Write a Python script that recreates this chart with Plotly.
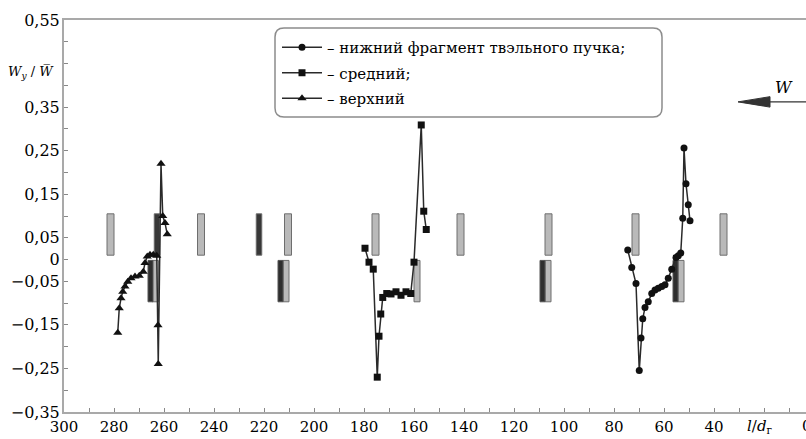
import plotly.graph_objects as go

# ---- data ----
x_low = [74.5, 72.9, 71.2, 69.9, 69.2, 68.5, 67.6, 66.3, 64.9, 63.6, 62.3, 60.9, 59.6,
         58.3, 56.9, 55.2, 54.3, 53.3, 52.5, 52.0, 51.2, 50.3, 49.6]
y_low = [0.022, -0.018, -0.055, -0.255, -0.18, -0.136, -0.11, -0.097, -0.078, -0.070,
         -0.066, -0.062, -0.058, -0.043, -0.022, 0.005, 0.009, 0.015, 0.095, 0.256,
         0.174, 0.126, 0.089]

x_mid = [179.6, 178.0, 176.3, 174.7, 174.0, 173.3, 172.5, 170.9, 169.2, 167.2, 165.2,
         163.2, 161.3, 160.0, 157.1, 156.1, 155.1]
y_mid = [0.026, -0.006, -0.022, -0.27, -0.176, -0.125, -0.087, -0.078, -0.079, -0.074,
         -0.082, -0.074, -0.078, -0.006, 0.309, 0.111, 0.069]

x_up = [278.5, 277.9, 277.2, 276.5, 275.6, 274.5, 273.2, 271.6, 269.9, 268.3, 267.6,
        266.7, 265.6, 264.3, 262.9, 262.4, 262.3, 261.2, 260.5, 259.6, 258.7]
y_up = [-0.168, -0.112, -0.089, -0.074, -0.062, -0.051, -0.043, -0.039, -0.037, -0.028,
        -0.008, 0.007, 0.011, 0.011, 0.009, -0.151, -0.24, 0.22, 0.10, 0.084, 0.058]

names = ["\u2013 нижний фрагмент твэльного пучка;", "\u2013 средний;", "\u2013 верхний"]

# spacer grid positions (l/d) : upper row and lower row
upper_light = [281.4, 245.2, 210.4, 175.4, 141.4, 106.2, 71.4, 36.2]
upper_dark = [262.8, 222.0]
lower_dark = [265.4, 213.4, 108.6, 55.4]
lower_light = [263.4, 211.2, 158.8, 106.4, 53.2]
upper_row = [0.01, 0.105]
lower_row = [-0.097, -0.002]

x_ticks = [300, 280, 260, 240, 220, 200, 180, 160, 140, 120, 100, 80, 60, 40]
y_ticks = [0.55, 0.35, 0.25, 0.15, 0.05, 0, -0.05, -0.15, -0.25, -0.35]

def fmt(v):
    s = ("%g" % abs(v)).replace(".", ",")
    return ("\u2212" + s) if v < 0 else s

FONT = "DejaVu Serif"
AX = "#a9a9a9"

fig = go.Figure()

shapes = []
def bar(xc, w, yr, fill, line):
    shapes.append(dict(type="rect", xref="x", yref="y", x0=xc + w / 2, x1=xc - w / 2,
                       y0=yr[0], y1=yr[1], fillcolor=fill,
                       line=dict(color=line, width=1), layer="below"))

for xc in upper_light:
    bar(xc, 2.8, upper_row, "#b9b9b9", "#6e6e6e")
for xc in upper_dark:
    bar(xc, 2.2, upper_row, "#383838", "#6a6a6a")
for xc in lower_light:
    bar(xc, 2.4, lower_row, "#b9b9b9", "#6e6e6e")
for xc in lower_dark:
    bar(xc, 2.0, lower_row, "#2e2e2e", "#555555")

specs = [(x_low, y_low, "circle", 7), (x_mid, y_mid, "square", 7), (x_up, y_up, "triangle-up", 8)]
for i, ((xs, ys, sym, sz), nm) in enumerate(zip(specs, names)):
    fig.add_trace(go.Scatter(x=xs, y=ys, mode="lines+markers", name=nm,
                             legendgroup="g%d" % i,
                             line=dict(color="#2a2a2a", width=1.5),
                             marker=dict(symbol=sym, size=sz, color="#111111")))

# rounded legend box
x0, x1 = (275 - 64) / 742, (662 - 64) / 742
y1, y0 = (412 - 28) / 392, (412 - 117) / 392
rx, ry = 9 / 742, 9 / 392
path = (f"M{x0+rx},{y1} L{x1-rx},{y1} Q{x1},{y1} {x1},{y1-ry} L{x1},{y0+ry} "
        f"Q{x1},{y0} {x1-rx},{y0} L{x0+rx},{y0} Q{x0},{y0} {x0},{y0+ry} "
        f"L{x0},{y1-ry} Q{x0},{y1} {x0+rx},{y1} Z")
shapes.append(dict(type="path", xref="paper", yref="paper", path=path,
                   fillcolor="white", line=dict(color="#8c8c8c", width=1.5), layer="above"))

# W arrow
shapes.append(dict(type="line", xref="x", yref="y", x0=3.2, x1=18.5, y0=0.362, y1=0.362,
                   line=dict(color="#333333", width=1.2)))
shapes.append(dict(type="path", xref="x", yref="y",
                   path="M30.4,0.362 L17.6,0.374 L17.6,0.350 Z",
                   fillcolor="#333333", line=dict(color="#333333", width=1)))

annotations = [
    dict(xref="x", yref="y", x=12, y=0.395, text="<i>W</i>", showarrow=False,
         font=dict(family=FONT, size=16, color="black")),
    dict(xref="paper", yref="y", x=-0.044, y=0.43, xanchor="center",
         text="<i>W<sub>y</sub></i> / <i>W\u0305</i>", showarrow=False,
         font=dict(family=FONT, size=13, color="black")),
    dict(xref="x", yref="paper", x=22, y=0, yanchor="top", yshift=-3,
         text="<i>l</i>/<i>d</i><sub>г</sub>", showarrow=False,
         font=dict(family=FONT, size=15, color="black")),
    dict(xref="paper", yref="paper", x=(814 - 64) / 742, y=0, yanchor="top", yshift=-3,
         text="0", showarrow=False, font=dict(family=FONT, size=15, color="black")),
]

fig.update_layout(
    width=806, height=439,
    margin=dict(l=64, r=0, t=20, b=27),
    paper_bgcolor="white", plot_bgcolor="white",
    shapes=shapes, annotations=annotations,
    font=dict(family=FONT, size=15, color="black"),
    legend=dict(x=(277 - 64) / 742, y=(412 - 31) / 392, xanchor="left", yanchor="top",
                bgcolor="rgba(0,0,0,0)", borderwidth=0, tracegroupgap=3,
                font=dict(family=FONT, size=15, color="black"), itemwidth=40),
    showlegend=True,
)
fig.update_xaxes(range=[300, 3.2], showgrid=False, zeroline=False,
                 showline=True, linecolor=AX, linewidth=2, mirror=True,
                 tickvals=x_ticks, ticktext=[str(v) for v in x_ticks],
                 ticks="inside", ticklen=4, tickcolor="#888888", tickwidth=1,
                 minor=dict(dtick=10, tick0=0, ticks="inside", ticklen=4,
                            tickcolor="#888888", tickwidth=1),
                 tickfont=dict(family=FONT, size=15, color="black"))
fig.update_yaxes(range=[-0.35, 0.55], showgrid=False, zeroline=False,
                 showline=True, linecolor=AX, linewidth=2,
                 tickvals=y_ticks, ticktext=[fmt(v) for v in y_ticks],
                 ticks="inside", ticklen=4, tickcolor="#888888", tickwidth=1,
                 ticklabelstandoff=-1,
                 minor=dict(dtick=0.05, tick0=0, ticks="inside", ticklen=4,
                            tickcolor="#888888", tickwidth=1),
                 tickfont=dict(family=FONT, size=16, color="black"))

fig.write_html("out.html")
